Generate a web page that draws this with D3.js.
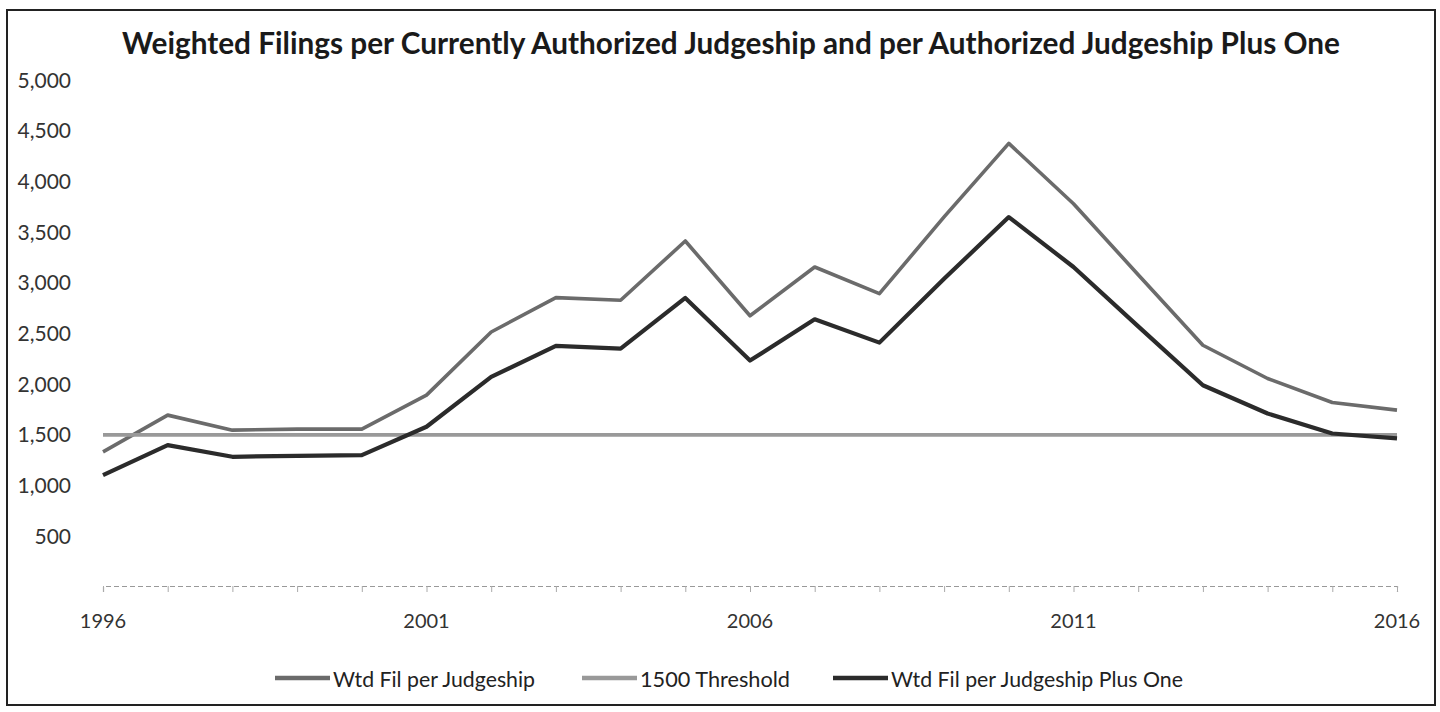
<!DOCTYPE html>
<html><head><meta charset="utf-8">
<script src="https://cdn.jsdelivr.net/npm/d3@7"></script>
<style>
html,body{margin:0;padding:0;background:#fff;}
svg{display:block;font-family:Lato,"Open Sans",sans-serif;}
</style></head>
<body>
<svg id="chart" width="1440" height="712"></svg>
<script>
const years = [1996,1997,1998,1999,2000,2001,2002,2003,2004,2005,2006,2007,2008,2009,2010,2011,2012,2013,2014,2015,2016];
const wtdFilPerJudgeship = [1333,1695,1547,1557,1557,1892,2515,2854,2828,3412,2675,3156,2893,3650,4375,3780,3080,2384,2056,1820,1744];
const thresholdValues = [1500,1500,1500,1500,1500,1500,1500,1500,1500,1500,1500,1500,1500,1500,1500,1500,1500,1500,1500,1500,1500];
const wtdFilPlusOne = [1103,1399,1284,1294,1300,1580,2072,2378,2351,2851,2233,2640,2410,3040,3648,3156,2570,1990,1711,1514,1465];
const yTicks = [500,1000,1500,2000,2500,3000,3500,4000,4500,5000];
const xTickLabels = [1996,2001,2006,2011,2016];
const titleText = "Weighted Filings per Currently Authorized Judgeship and per Authorized Judgeship Plus One";
const seriesNames = ["Wtd Fil per Judgeship","1500 Threshold","Wtd Fil per Judgeship Plus One"];

const svg = d3.select("#chart");
const x = d3.scalePoint().domain(years).range([103,1397]);
const y = d3.scaleLinear().domain([0,5000]).range([587,80]);

const colors = ["#6b6b6b","#999999","#2b2b2b"];
const widths = [3.6,3.6,4.2];

// frame
svg.append("rect").attr("x",7).attr("y",10).attr("width",1428).attr("height",695)
  .attr("fill","none").attr("stroke","#222").attr("stroke-width",2);

// title
const t = svg.append("text").attr("x",731).attr("y",54).attr("text-anchor","middle")
  .attr("font-weight","bold").attr("font-size",25).attr("fill","#1a1a1a").text(titleText);
const tl = t.node().getComputedTextLength();
t.attr("font-size", 25*1218/tl);

// y axis labels
svg.append("g").selectAll("text").data(yTicks).join("text")
  .attr("x",71).attr("y",d=>y(d)).attr("dy","0.36em").attr("text-anchor","end")
  .attr("font-size",21).attr("fill","#333")
  .text(d=>d3.format(",")(d));

// x axis
const xAxis = d3.axisBottom(x).tickSize(6).tickFormat("");
const gx = svg.append("g").attr("transform","translate(0,586)").call(xAxis);
gx.select(".domain").attr("stroke","#999").attr("stroke-dasharray","5,3").attr("stroke-width",1.2);
gx.selectAll(".tick line").attr("stroke","#aaa");
svg.append("g").selectAll("text").data(xTickLabels).join("text")
  .attr("x",d=>x(d)).attr("y",628).attr("text-anchor","middle")
  .attr("font-size",20).attr("fill","#333").text(d=>d);

// lines
const line = d3.line().x((d,i)=>x(years[i])).y(d=>y(d));
const allSeries = [wtdFilPerJudgeship, thresholdValues, wtdFilPlusOne];
svg.append("g").selectAll("path").data(allSeries).join("path")
  .attr("d",d=>line(d)).attr("fill","none")
  .attr("stroke",(d,i)=>colors[i]).attr("stroke-width",(d,i)=>widths[i])
  .attr("stroke-linejoin","round");

// legend
const legendX = [275,582,833];
const legendTextW = [202,150,292];
const lg = svg.append("g").selectAll("g").data(seriesNames).join("g")
  .attr("transform",(d,i)=>`translate(${legendX[i]},678)`);
lg.append("line").attr("x1",0).attr("x2",55).attr("y1",0).attr("y2",0)
  .attr("stroke",(d,i)=>colors[i]).attr("stroke-width",4.5);
lg.append("text").attr("x",58).attr("y",9)
  .attr("font-size",21).attr("fill","#222")
  .attr("textLength",(d,i)=>legendTextW[i]).attr("lengthAdjust","spacingAndGlyphs")
  .text(d=>d);
</script>
</body></html>
